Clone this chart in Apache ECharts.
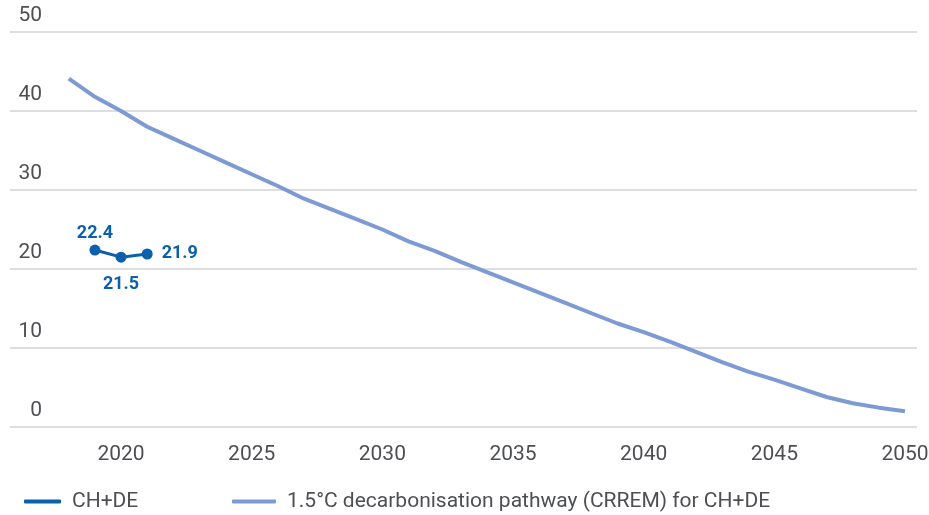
<!DOCTYPE html>
<html>
<head>
<meta charset="utf-8">
<script src="https://cdn.jsdelivr.net/npm/echarts@6/dist/echarts.min.js"></script>
<style>
  html, body { margin: 0; padding: 0; background: #fff; }
  #chart { width: 929px; height: 515px; }
</style>
</head>
<body>
<div id="chart"></div>
<script>
// Emission intensity: reported values and the 1.5°C CRREM pathway
const actualYears = [2019, 2020, 2021];
const actualValues = [22.4, 21.5, 21.9];

const pathwayYears = [
  2018, 2019, 2020, 2021, 2022, 2023, 2024, 2025, 2026, 2027, 2028,
  2029, 2030, 2031, 2032, 2033, 2034, 2035, 2036, 2037, 2038, 2039,
  2040, 2041, 2042, 2043, 2044, 2045, 2046, 2047, 2048, 2049, 2050
];
const pathwayValues = [
  44.1, 41.8, 40.0, 38.0, 36.5, 35.0, 33.5, 32.0, 30.5, 28.9, 27.6,
  26.3, 25.0, 23.5, 22.3, 20.9, 19.6, 18.3, 17.0, 15.7, 14.4, 13.1,
  12.0, 10.8, 9.5, 8.2, 7.0, 6.0, 4.9, 3.8, 3.0, 2.45, 2.0
];

const xTickLabels = [2020, 2025, 2030, 2035, 2040, 2045, 2050];
const yTicks = { min: 0, max: 50, step: 10 };

const seriesNames = ['CH+DE', '1.5°C decarbonisation pathway (CRREM) for CH+DE'];

const actualColor = '#0b5fab';
const pathwayColor = '#7e9ad3';
const textColor = '#4d4f53';
const fontFamily = 'Roboto, "Liberation Sans", sans-serif';

// label placement for each reported point
const labelPlacement = [
  { position: 'top', distance: 2 },
  { position: 'bottom', distance: 13 },
  { position: 'right', distance: 9 }
];

const chart = echarts.init(document.getElementById('chart'), null, { renderer: 'canvas' });

const legendText = { color: textColor, fontFamily: fontFamily, fontSize: 21, padding: [0, 0, 0, 6] };

chart.setOption({
  animation: false,
  backgroundColor: '#ffffff',
  grid: {
    left: 10, right: 12, top: 32, bottom: 88,
    containLabel: false,
    outerBoundsMode: 'none'
  },
  xAxis: {
    type: 'value',
    min: 2015.75,
    max: 2050.46,
    axisLine: { show: false },
    axisTick: { show: false },
    splitLine: { show: false },
    axisLabel: {
      customValues: xTickLabels,
      formatter: v => String(v),
      color: textColor,
      fontFamily: fontFamily,
      fontSize: 21,
      margin: 17
    }
  },
  yAxis: {
    type: 'value',
    min: yTicks.min,
    max: yTicks.max,
    interval: yTicks.step,
    axisLine: { show: false },
    axisTick: { show: false },
    splitLine: { lineStyle: { color: '#d2d3d5', width: 1.5 } },
    axisLabel: {
      inside: true,
      align: 'right',
      verticalAlign: 'bottom',
      margin: 32,
      padding: [0, 0, 6, 0],
      color: textColor,
      fontFamily: fontFamily,
      fontSize: 21
    }
  },
  legend: [
    {
      left: 24, top: 491, padding: 0,
      data: [{ name: seriesNames[0], icon: 'roundRect' }],
      itemWidth: 37, itemHeight: 4,
      textStyle: legendText,
      selectedMode: false
    },
    {
      left: 232, top: 491, padding: 0,
      data: [{ name: seriesNames[1], icon: 'roundRect' }],
      itemWidth: 44, itemHeight: 4,
      textStyle: legendText,
      selectedMode: false
    }
  ],
  series: [
    {
      name: seriesNames[1],
      type: 'line',
      data: pathwayYears.map((y, i) => [y, pathwayValues[i]]),
      showSymbol: false,
      symbol: 'none',
      lineStyle: { color: pathwayColor, width: 4 },
      itemStyle: { color: pathwayColor },
      z: 2
    },
    {
      name: seriesNames[0],
      type: 'line',
      data: actualYears.map((y, i) => ({
        value: [y, actualValues[i]],
        label: labelPlacement[i]
      })),
      symbol: 'circle',
      symbolSize: 11,
      lineStyle: { color: actualColor, width: 3 },
      itemStyle: { color: actualColor },
      label: {
        show: true,
        formatter: p => p.value[1].toFixed(1),
        color: actualColor,
        fontFamily: fontFamily,
        fontWeight: 'bold',
        fontSize: 18
      },
      z: 3
    }
  ]
});
</script>
</body>
</html>
